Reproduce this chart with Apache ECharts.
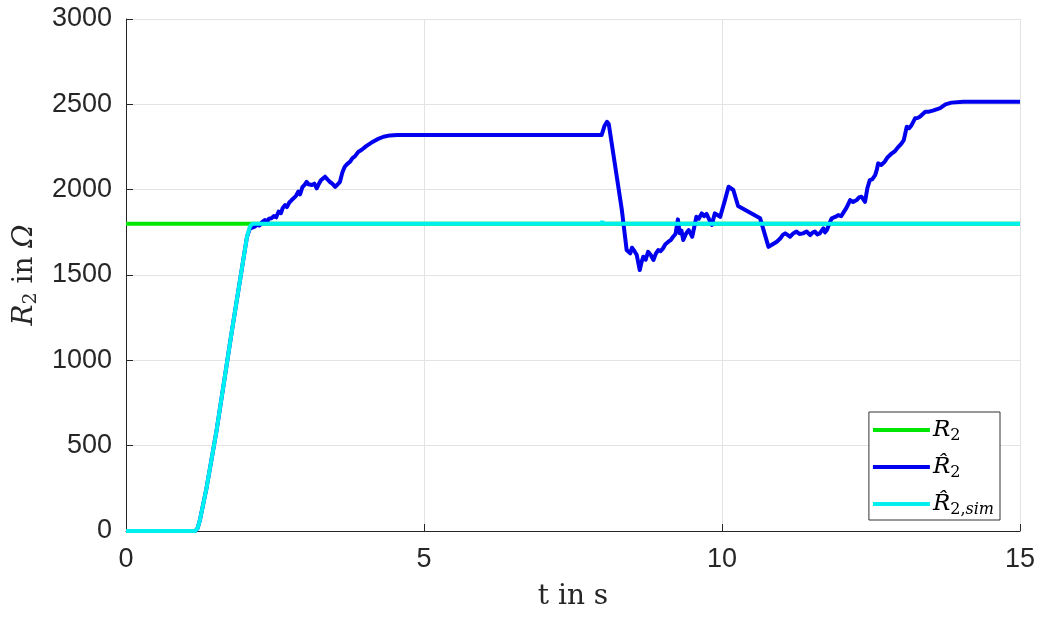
<!DOCTYPE html>
<html><head><meta charset="utf-8">
<script src="https://cdn.jsdelivr.net/npm/echarts@6/dist/echarts.min.js"></script>
<style>html,body{margin:0;padding:0;background:#fff}#c{width:1045px;height:617px}</style>
</head><body><div id="c"></div>
<script>
const xTicks = [0, 5, 10, 15];
const yTicks = [0, 500, 1000, 1500, 2000, 2500, 3000];
const seriesNames = ['R2', 'R2hat', 'R2sim'];

const tGreen = [0, 15];
const vGreen = [1800, 1800];

const tBlue = [0, 1.16, 1.20, 1.24, 1.35, 1.52, 1.77, 2.03, 2.08, 2.12, 2.16, 2.20, 2.24, 2.28, 2.33, 2.37, 2.40, 2.44, 2.48, 2.52, 2.56, 2.60, 2.63, 2.67, 2.70, 2.74, 2.78, 2.81, 2.85, 2.89, 2.92, 2.96, 3.00, 3.03, 3.06, 3.09, 3.12, 3.16, 3.20, 3.23, 3.27, 3.30, 3.34, 3.38, 3.42, 3.46, 3.51, 3.55, 3.59, 3.63, 3.67, 3.71, 3.76, 3.80, 3.84, 3.90, 3.95, 4.03, 4.12, 4.22, 4.32, 4.43, 4.55, 7.98, 8.03, 8.07, 8.10, 8.32, 8.40, 8.46, 8.49, 8.52, 8.57, 8.62, 8.65, 8.68, 8.72, 8.76, 8.80, 8.85, 8.89, 8.93, 8.97, 9.01, 9.05, 9.10, 9.14, 9.18, 9.22, 9.26, 9.29, 9.32, 9.35, 9.40, 9.44, 9.47, 9.50, 9.54, 9.57, 9.61, 9.66, 9.70, 9.74, 9.77, 9.83, 9.86, 9.88, 9.93, 9.97, 10.05, 10.11, 10.19, 10.27, 10.64, 10.78, 10.85, 10.92, 10.98, 11.02, 11.06, 11.10, 11.14, 11.20, 11.25, 11.30, 11.36, 11.42, 11.48, 11.52, 11.56, 11.60, 11.64, 11.70, 11.73, 11.76, 11.80, 11.84, 11.90, 11.95, 12.00, 12.03, 12.09, 12.15, 12.20, 12.26, 12.30, 12.34, 12.40, 12.44, 12.48, 12.52, 12.57, 12.60, 12.62, 12.67, 12.73, 12.78, 12.85, 12.90, 12.96, 13.01, 13.05, 13.10, 13.14, 13.18, 13.24, 13.28, 13.32, 13.36, 13.41, 13.46, 13.55, 13.66, 13.75, 13.85, 14.05, 15];
const vBlue = [0, 0, 15, 64, 250, 590, 1158, 1724, 1773, 1778, 1783, 1795, 1790, 1808, 1822, 1815, 1830, 1832, 1845, 1838, 1871, 1862, 1893, 1910, 1898, 1925, 1939, 1928, 1962, 1988, 1972, 2015, 2030, 2046, 2032, 2040, 2027, 2035, 2008, 2030, 2055, 2045, 2076, 2060, 2046, 2035, 2017, 2030, 2046, 2100, 2134, 2150, 2164, 2185, 2195, 2222, 2232, 2255, 2276, 2296, 2310, 2318, 2320, 2320, 2375, 2398, 2385, 1880, 1646, 1627, 1660, 1646, 1617, 1529, 1575, 1607, 1590, 1636, 1620, 1588, 1625, 1646, 1640, 1656, 1680, 1695, 1705, 1724, 1740, 1826, 1744, 1760, 1705, 1745, 1763, 1745, 1724, 1790, 1841, 1830, 1861, 1845, 1858, 1851, 1793, 1835, 1861, 1850, 1841, 1939, 2017, 1998, 1904, 1832, 1665, 1680, 1695, 1715, 1735, 1744, 1735, 1724, 1745, 1754, 1740, 1744, 1755, 1734, 1748, 1754, 1738, 1744, 1773, 1750, 1763, 1800, 1832, 1840, 1851, 1845, 1851, 1895, 1939, 1928, 1939, 1955, 1959, 1929, 2010, 2056, 2060, 2085, 2120, 2154, 2145, 2164, 2190, 2213, 2225, 2251, 2270, 2290, 2369, 2360, 2378, 2418, 2420, 2427, 2440, 2456, 2456, 2465, 2478, 2500, 2510, 2515, 2515];

const tCyan = [0, 1.16, 1.20, 1.24, 1.35, 1.52, 1.77, 2.03, 2.08, 2.12, 2.18, 7.97, 7.99, 8.01, 15];
const vCyan = [0, 0, 15, 64, 250, 590, 1158, 1724, 1785, 1800, 1800, 1800, 1815, 1800, 1800];

const pair = (t, v) => t.map((x, i) => [x, v[i]]);

const chart = echarts.init(document.getElementById('c'));
const serif = '"DejaVu Serif", "Liberation Serif", serif';
const sans = '"Liberation Sans", Arial, sans-serif';
const legendRich = {
  i: { fontFamily: serif, fontStyle: 'italic', fontSize: 23, lineHeight: 28, color: '#000' },
  s: { fontFamily: serif, fontSize: 16, lineHeight: 28, color: '#000', padding: [12, 0, 0, 0] },
  si: { fontFamily: serif, fontStyle: 'italic', fontSize: 16, lineHeight: 28, color: '#000', padding: [12, 0, 0, 0] }
};
const labelMap = {
  R2: '{i|R}{s|2}',
  R2hat: '{i|R\u0302}{s|2}',
  R2sim: '{i|R\u0302}{s|2,}{si|sim}'
};
chart.setOption({
  animation: false,
  grid: { left: 126, right: 25, top: 19, bottom: 86, containLabel: false },
  legend: {
    data: seriesNames,
    right: 45, bottom: 97,
    orient: 'vertical',
    itemWidth: 57, itemHeight: 4, itemGap: 9,
    icon: 'rect',
    backgroundColor: '#fff',
    borderColor: '#333', borderWidth: 1, borderRadius: 0,
    padding: [4, 6, 2, 4],
    formatter: n => labelMap[n],
    textStyle: { fontFamily: serif, fontSize: 23, lineHeight: 28, rich: legendRich, padding: [0, 0, 0, -2] }
  },
  xAxis: {
    type: 'value', min: 0, max: 15, interval: 5,
    name: 't in s', nameLocation: 'middle', nameGap: 52,
    nameTextStyle: { fontFamily: serif, fontSize: 28, color: '#262626' },
    axisLine: { show: true, lineStyle: { color: '#262626', width: 1 } },
    axisTick: { show: true, inside: true, length: 7, lineStyle: { color: '#262626' } },
    axisLabel: { fontFamily: sans, fontSize: 27, color: '#262626', margin: 15,
      formatter: v => xTicks.includes(v) ? String(v) : '' },
    splitLine: { show: true, lineStyle: { color: '#e3e3e3', width: 1 } }
  },
  yAxis: {
    type: 'value', min: 0, max: 3000, interval: 500,
    name: '{i|R}{s|2}{n| in }{i|Ω}', nameLocation: 'middle', nameGap: 80,
    nameTextStyle: { fontFamily: serif, fontSize: 28, color: '#262626',
      rich: {
        i: { fontFamily: serif, fontStyle: 'italic', fontSize: 28, color: '#262626' },
        s: { fontFamily: serif, fontSize: 19, color: '#262626', padding: [14, 0, 0, 0] },
        n: { fontFamily: serif, fontSize: 28, color: '#262626' }
      } },
    axisLine: { show: true, lineStyle: { color: '#262626', width: 1 } },
    axisTick: { show: true, inside: true, length: 7, lineStyle: { color: '#262626' } },
    axisLabel: { fontFamily: sans, fontSize: 27, color: '#262626', margin: 14,
      formatter: v => yTicks.includes(v) ? String(v) : '' },
    splitLine: { show: true, lineStyle: { color: '#e3e3e3', width: 1 } }
  },
  series: [
    { name: 'R2', type: 'line', data: pair(tGreen, vGreen), showSymbol: false, symbol: 'none',
      lineStyle: { color: '#00e600', width: 4 }, itemStyle: { color: '#00e600' }, z: 2 },
    { name: 'R2hat', type: 'line', data: pair(tBlue, vBlue), showSymbol: false, symbol: 'none',
      lineStyle: { color: '#0000ee', width: 4, join: 'round' }, itemStyle: { color: '#0000ee' }, z: 3 },
    { name: 'R2sim', type: 'line', data: pair(tCyan, vCyan), showSymbol: false, symbol: 'none',
      lineStyle: { color: '#00f0f0', width: 4 }, itemStyle: { color: '#00f0f0' }, z: 4 }
  ]
});
</script></body></html>
